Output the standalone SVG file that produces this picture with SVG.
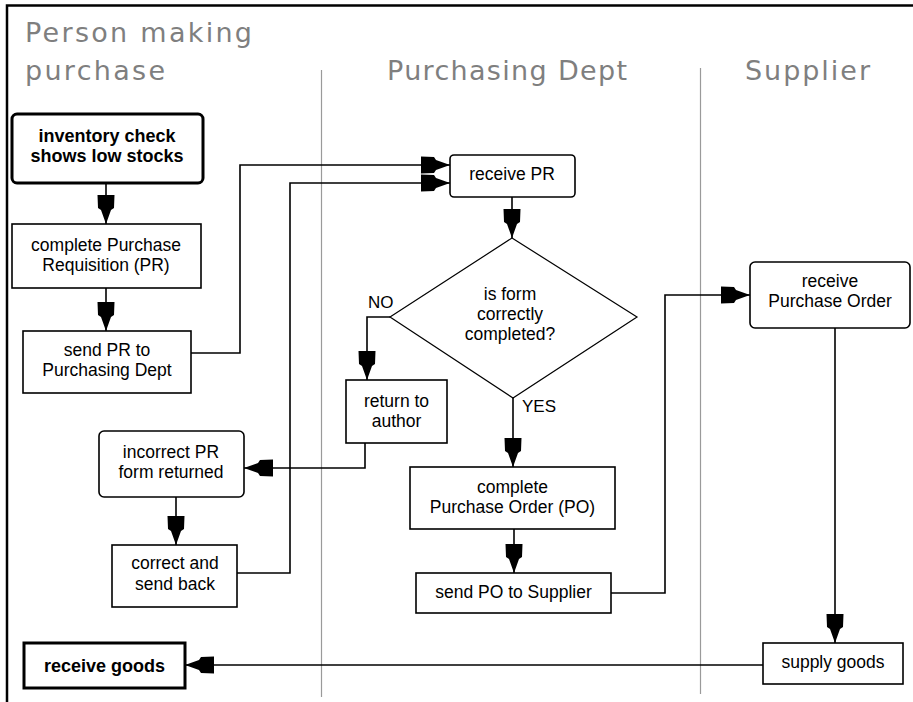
<svg xmlns="http://www.w3.org/2000/svg" width="913" height="702" viewBox="0 0 913 702">
<style>
.hdr{font-family:"DejaVu Sans","Liberation Sans",Arial,sans-serif;font-size:27px;fill:#7f7f7f}
.t{font-family:"Liberation Sans",Arial,sans-serif;font-size:17.5px;fill:#000;text-anchor:middle}
.tb{font-family:"Liberation Sans",Arial,sans-serif;font-size:18px;font-weight:bold;fill:#000;text-anchor:middle}
.lbl{font-family:"Liberation Sans",Arial,sans-serif;font-size:17px;fill:#000}
.box{fill:#fff;stroke:#000;stroke-width:1.6}
.bold{fill:#fff;stroke:#000;stroke-width:3}
.dia{fill:#fff;stroke:#000;stroke-width:1.2}
.lane{stroke:#9a9a9a;stroke-width:1.2;fill:none}
.frame{stroke:#000;stroke-width:2.5;fill:none}
.conn path{fill:none;stroke:#000;stroke-width:1.6;marker-end:url(#ah)}
</style>
<defs>
<marker id="ah" markerUnits="userSpaceOnUse" markerWidth="32" markerHeight="20" viewBox="-31 -10 32 20" refX="0" refY="0" orient="auto" overflow="visible">
<polygon points="0,0 -14,-5 -16,-8 -29,-8.5 -29,8.5 -16,8 -14,5" fill="#000"/>
</marker>
</defs>
<rect width="913" height="702" fill="#fff"/>
<g id="frame">
<path class="frame" d="M7,702 V5.5 H913"/>
<path class="lane" d="M321.5,70 V697 M700.5,68 V694"/>
</g>
<g id="headers">
<text class="hdr" x="25" y="42" textLength="227" lengthAdjust="spacing">Person making</text>
<text class="hdr" x="25" y="80" textLength="140" lengthAdjust="spacing">purchase</text>
<text class="hdr" x="387" y="80" textLength="240" lengthAdjust="spacing">Purchasing Dept</text>
<text class="hdr" x="745" y="80" textLength="125" lengthAdjust="spacing">Supplier</text>
</g>
<g class="conn" id="connectors">
<path d="M106,183 V224"/>
<path d="M106,288 V331"/>
<path d="M191,353 H240 V165 H450"/>
<path d="M237,573 H290 V183 H450"/>
<path d="M512,197 V238"/>
<path d="M390,317 H367 V380"/>
<path d="M513,398 V467"/>
<path d="M365,443 V468 H244"/>
<path d="M176,497 V545"/>
<path d="M514,529 V573"/>
<path d="M611,593 H665 V295 H750"/>
<path d="M835,328 V643"/>
<path d="M763,665 H185"/>
</g>
<g id="inventory">
<rect class="bold" x="12" y="114" width="191" height="69" rx="5"/>
<text class="tb" x="107" y="142">inventory check</text>
<text class="tb" x="107" y="162">shows low stocks</text>
</g>
<g id="completePR">
<rect class="box" x="12" y="224" width="189" height="64"/>
<text class="t" x="106" y="251">complete Purchase</text>
<text class="t" x="106" y="271">Requisition (PR)</text>
</g>
<g id="sendPR">
<rect class="box" x="23" y="331" width="168" height="62"/>
<text class="t" x="107" y="356">send PR to</text>
<text class="t" x="107" y="376">Purchasing Dept</text>
</g>
<g id="incorrectPR">
<rect class="box" x="99" y="431" width="145" height="66" rx="5"/>
<text class="t" x="171" y="458">incorrect PR</text>
<text class="t" x="171" y="478">form returned</text>
</g>
<g id="correct">
<rect class="box" x="112" y="545" width="125" height="62"/>
<text class="t" x="175" y="569">correct and</text>
<text class="t" x="175" y="590">send back</text>
</g>
<g id="receiveGoods">
<rect class="bold" x="24" y="643" width="161" height="45"/>
<text class="tb" x="104.5" y="672">receive goods</text>
</g>
<g id="receivePR">
<rect class="box" x="450" y="155" width="125" height="42" rx="4"/>
<text class="t" x="512" y="180">receive PR</text>
</g>
<g id="decision">
<polygon class="dia" points="512,238 637,317 513,398 390,317"/>
<text class="t" x="510" y="300">is form</text>
<text class="t" x="510" y="320">correctly</text>
<text class="t" x="510" y="340">completed?</text>
<text class="lbl" x="368" y="308">NO</text>
<text class="lbl" x="522" y="412">YES</text>
</g>
<g id="returnAuthor">
<rect class="box" x="346" y="380" width="101" height="63"/>
<text class="t" x="396.5" y="407">return to</text>
<text class="t" x="396.5" y="427">author</text>
</g>
<g id="completePO">
<rect class="box" x="410" y="467" width="205" height="62"/>
<text class="t" x="512.5" y="493">complete</text>
<text class="t" x="512.5" y="513">Purchase Order (PO)</text>
</g>
<g id="sendPO">
<rect class="box" x="416" y="573" width="195" height="40"/>
<text class="t" x="513.5" y="598">send PO to Supplier</text>
</g>
<g id="receivePO">
<rect class="box" x="750" y="262" width="160" height="66" rx="5"/>
<text class="t" x="830" y="287">receive</text>
<text class="t" x="830" y="307">Purchase Order</text>
</g>
<g id="supplyGoods">
<rect class="box" x="763" y="643" width="140" height="41"/>
<text class="t" x="833" y="668">supply goods</text>
</g>
</svg>
